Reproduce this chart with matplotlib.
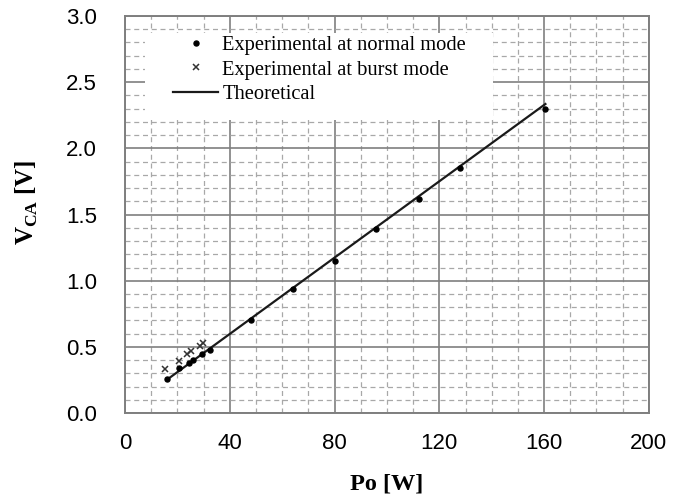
import matplotlib
matplotlib.use("Agg")
import matplotlib.pyplot as plt
from matplotlib.patches import Rectangle
from matplotlib.ticker import MultipleLocator, FormatStrFormatter

# normal mode measurements
normal_po = [16.2, 20.7, 24.3, 26.1, 29.3, 32.6, 48, 64, 80, 96, 112.4, 128, 160.5]
normal_v = [0.26, 0.34, 0.38, 0.40, 0.45, 0.48, 0.70, 0.935, 1.15, 1.39, 1.62, 1.85, 2.30]

# burst mode measurements
burst_po = [15.3, 20.5, 23.8, 25.3, 28.6, 29.9]
burst_v = [0.33, 0.395, 0.45, 0.47, 0.51, 0.53]

# theoretical line end points
theory_po = [16.2, 160.5]
theory_v = [0.255, 2.335]

fig = plt.figure(figsize=(6.94, 4.99), dpi=100)
ax = fig.add_axes([0.180, 0.172, 0.755, 0.796])

ax.plot(theory_po, theory_v, color="#1a1a1a", lw=1.6, label="Theoretical", zorder=3)
ax.plot(normal_po, normal_v, "o", ms=3.6, color="black", label="Experimental at normal mode", zorder=4)
ax.plot(burst_po, burst_v, "x", ms=5, mew=1.1, color="#333333", label="Experimental at burst mode", zorder=4)

ax.set_xlim(0, 200)
ax.set_ylim(0, 3.0)
ax.xaxis.set_major_locator(MultipleLocator(40))
ax.xaxis.set_minor_locator(MultipleLocator(10))
ax.yaxis.set_major_locator(MultipleLocator(0.5))
ax.yaxis.set_minor_locator(MultipleLocator(0.1))
ax.yaxis.set_major_formatter(FormatStrFormatter("%.1f"))

ax.grid(which="major", color="#7f7f7f", lw=1.2, linestyle="-")
ax.grid(which="minor", color="#a8a8a8", lw=0.9, linestyle=(0, (4, 3)))
ax.set_axisbelow(True)
ax.tick_params(which="both", length=0)
ax.tick_params(axis="y", pad=20)
ax.tick_params(axis="x", pad=14)
for lbl in ax.get_xticklabels() + ax.get_yticklabels():
    lbl.set_fontfamily("Liberation Sans")
    lbl.set_fontsize(16)

for s in ax.spines.values():
    s.set_color("#7f7f7f")
    s.set_linewidth(1.4)

ax.set_xlabel("Po [W]", family="Liberation Serif", fontweight="bold", fontsize=17.5)
ax.set_ylabel("V$_{\\mathregular{CA}}$ [V]", family="Liberation Serif", fontweight="bold", fontsize=18)
ax.xaxis.set_label_coords(0.5, -0.152)
ax.yaxis.set_label_coords(-0.162, 0.531)

# white box behind the legend, covering the grid
ax.add_patch(Rectangle((0.038, 0.738), 0.664, 0.219, transform=ax.transAxes,
                       facecolor="white", edgecolor="none", zorder=2))

handles, labels = ax.get_legend_handles_labels()
order = [1, 2, 0]
leg = ax.legend([handles[i] for i in order], [labels[i] for i in order],
                loc="upper left", bbox_to_anchor=(0.0916, 0.950),
                prop={"family": "Liberation Serif", "size": 14.8},
                frameon=False, borderpad=0.0, borderaxespad=0.0,
                handlelength=2.2, handletextpad=0.2, labelspacing=0.24)
leg.set_zorder(5)

fig.savefig("out.png", dpi=100)
